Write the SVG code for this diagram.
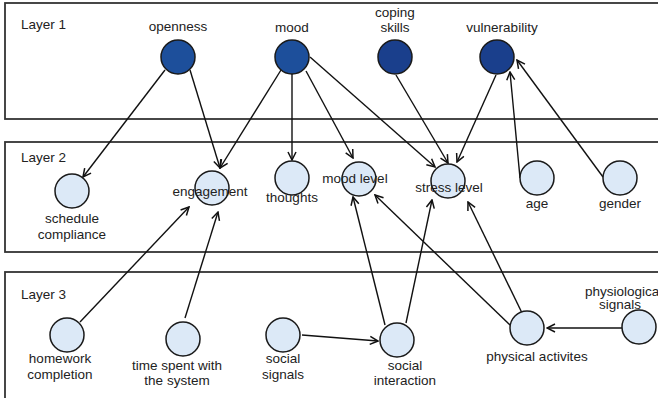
<svg xmlns="http://www.w3.org/2000/svg" width="658" height="398" viewBox="0 0 658 398">
<defs>
<marker id="arr" markerWidth="10" markerHeight="10" refX="9" refY="5" orient="auto" markerUnits="userSpaceOnUse">
<path d="M1,1 L9,5 L1,9" fill="none" stroke="#111" stroke-width="1.5"/>
</marker>
</defs>
<style>
.layer{fill:#fff;stroke:#333;stroke-width:1.8}
.dark{fill:#1d4f9b;stroke:#1a1a1a;stroke-width:1.5}
.dark2{fill:#1a3f8c;stroke:#1a1a1a;stroke-width:1.5}
.light{fill:#dce9f7;stroke:#1a1a1a;stroke-width:1.5}
text{font-family:"Liberation Sans",Arial,sans-serif;font-size:13.5px;fill:#222}
.c{text-anchor:middle}
.e{fill:none;stroke:#111;stroke-width:1.4;marker-end:url(#arr)}
</style>
<g id="layers">
<rect class="layer" x="5" y="3" width="660" height="116"/>
<rect class="layer" x="5" y="142" width="660" height="110"/>
<rect class="layer" x="5" y="272" width="660" height="140"/>
<text x="21" y="29">Layer 1</text>
<text x="21" y="162">Layer 2</text>
<text x="21" y="299">Layer 3</text>
</g>
<g id="connectors">
<line class="e" x1="165" y1="70" x2="83" y2="177"/>
<line class="e" x1="190" y1="70" x2="220" y2="168"/>
<line class="e" x1="281" y1="70" x2="220" y2="168"/>
<line class="e" x1="292" y1="74" x2="292" y2="160"/>
<line class="e" x1="306" y1="71" x2="353" y2="158"/>
<line class="e" x1="310" y1="57" x2="435" y2="167"/>
<line class="e" x1="396" y1="75" x2="448" y2="163"/>
<line class="e" x1="496" y1="75" x2="457" y2="162"/>
<line class="e" x1="520" y1="178" x2="510" y2="72"/>
<line class="e" x1="603" y1="177" x2="517" y2="60"/>
<line class="e" x1="80" y1="322" x2="189" y2="207"/>
<line class="e" x1="185" y1="318" x2="218" y2="212"/>
<line class="e" x1="302" y1="335" x2="378" y2="341"/>
<line class="e" x1="385" y1="325" x2="353" y2="197"/>
<line class="e" x1="406" y1="323" x2="432" y2="200"/>
<line class="e" x1="510" y1="325" x2="375" y2="195"/>
<line class="e" x1="523" y1="315" x2="468" y2="202"/>
<line class="e" x1="622" y1="328" x2="547" y2="328"/>
</g>
<g id="openness"><circle class="dark" cx="178" cy="57" r="17"/><text class="c" x="178" y="31">openness</text></g>
<g id="mood"><circle class="dark" cx="292" cy="57" r="17"/><text class="c" x="292" y="32">mood</text></g>
<g id="coping-skills"><circle class="dark2" cx="395" cy="57" r="17"/><text class="c" x="395" y="17">coping</text><text class="c" x="395" y="32">skills</text></g>
<g id="vulnerability"><circle class="dark2" cx="497" cy="57" r="17"/><text class="c" x="502" y="32">vulnerability</text></g>
<g id="schedule-compliance"><circle class="light" cx="72" cy="191" r="17"/><text class="c" x="72" y="223">schedule</text><text class="c" x="72" y="239">compliance</text></g>
<g id="engagement"><circle class="light" cx="212" cy="188" r="17"/><text class="c" x="210" y="196">engagement</text></g>
<g id="thoughts"><circle class="light" cx="292" cy="178" r="17"/><text class="c" x="292" y="202">thoughts</text></g>
<g id="mood-level"><circle class="light" cx="359" cy="179" r="17"/><text class="c" x="355" y="183">mood level</text></g>
<g id="stress-level"><circle class="light" cx="448" cy="181" r="17"/><text class="c" x="449" y="192">stress level</text></g>
<g id="age"><circle class="light" cx="537" cy="178" r="17"/><text class="c" x="537" y="208">age</text></g>
<g id="gender"><circle class="light" cx="620" cy="178" r="17"/><text class="c" x="620" y="208">gender</text></g>
<g id="homework-completion"><circle class="light" cx="67" cy="335" r="17"/><text class="c" x="60" y="363">homework</text><text class="c" x="60" y="379">completion</text></g>
<g id="time-spent"><circle class="light" cx="183" cy="339" r="17"/><text class="c" x="177" y="370">time spent with</text><text class="c" x="177" y="385">the system</text></g>
<g id="social-signals"><circle class="light" cx="283" cy="335" r="17"/><text class="c" x="283" y="363">social</text><text class="c" x="283" y="379">signals</text></g>
<g id="social-interaction"><circle class="light" cx="397" cy="340" r="17"/><text class="c" x="405" y="370">social</text><text class="c" x="405" y="385">interaction</text></g>
<g id="physical-activites"><circle class="light" cx="527" cy="328" r="17"/><text class="c" x="537" y="361">physical activites</text></g>
<g id="physiological-signals"><circle class="light" cx="639" cy="327" r="17"/><text x="585" y="296">physiological</text><text class="c" x="620" y="309">signals</text></g>
</svg>
